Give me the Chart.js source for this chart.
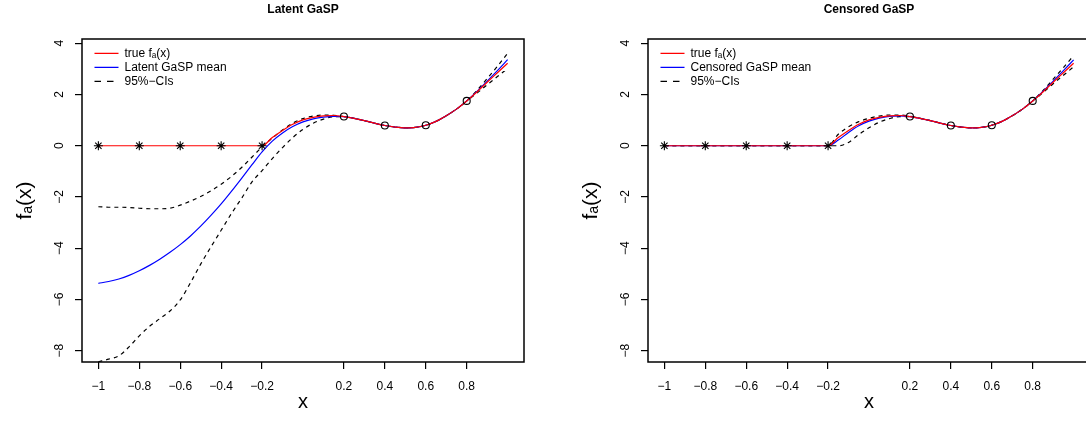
<!DOCTYPE html>
<html><head><meta charset="utf-8">
<script src="https://cdn.jsdelivr.net/npm/chart.js@4/dist/chart.umd.min.js"></script>
<style>
html,body{margin:0;padding:0;background:#fff;width:1086px;height:429px;overflow:hidden;}
#wrap{position:relative;width:1086px;height:429px;overflow:hidden;background:#fff;}
canvas{position:absolute;top:0;}
#c1{left:0;}
#c2{left:566px;}
</style></head><body>
<div id="wrap"><canvas id="c1" width="543" height="429"></canvas><canvas id="c2" width="543" height="429"></canvas></div>
<script>
// ---- data ----
const xGrid = [-1.00,-0.95,-0.90,-0.85,-0.80,-0.75,-0.70,-0.65,-0.60,-0.55,-0.50,-0.45,-0.40,-0.35,-0.30,-0.25,-0.20,-0.15,-0.10,-0.05,0.00,0.05,0.10,0.15,0.20,0.25,0.30,0.35,0.40,0.45,0.50,0.55,0.60,0.65,0.70,0.75,0.80,0.85,0.90,0.95,1.00];
const trueF = [0,0,0,0,0,0,0,0,0,0,0,0,0,0,0,0,0,0.32,0.60,0.84,1.01,1.11,1.17,1.18,1.14,1.07,0.98,0.88,0.79,0.73,0.70,0.72,0.80,0.95,1.17,1.43,1.75,2.10,2.48,2.85,3.22];
const latentMean = [-5.37,-5.30,-5.20,-5.06,-4.88,-4.67,-4.43,-4.16,-3.86,-3.52,-3.14,-2.72,-2.27,-1.78,-1.27,-0.75,-0.24,0.18,0.50,0.75,0.93,1.05,1.12,1.15,1.14,1.07,0.98,0.88,0.79,0.73,0.70,0.72,0.80,0.95,1.17,1.43,1.75,2.12,2.52,2.93,3.36];
const latentUpper = [-2.38,-2.40,-2.40,-2.41,-2.44,-2.46,-2.46,-2.44,-2.32,-2.16,-1.98,-1.76,-1.50,-1.20,-0.85,-0.45,-0.05,0.30,0.62,0.88,1.06,1.16,1.20,1.19,1.14,1.07,0.98,0.88,0.79,0.73,0.70,0.72,0.80,0.95,1.17,1.43,1.75,2.16,2.62,3.10,3.61];
const latentLower = [-8.43,-8.33,-8.20,-7.85,-7.42,-7.05,-6.75,-6.45,-6.02,-5.35,-4.62,-3.95,-3.30,-2.65,-2.05,-1.42,-0.97,-0.50,-0.07,0.32,0.64,0.88,1.04,1.13,1.14,1.07,0.98,0.88,0.79,0.73,0.70,0.72,0.80,0.95,1.17,1.43,1.75,2.05,2.38,2.70,3.02];
const censoredMean = [0,0,0,0,0,0,0,0,0,0,0,0,0,0,0,0,0,0.22,0.52,0.78,0.96,1.08,1.15,1.17,1.14,1.07,0.98,0.88,0.79,0.73,0.70,0.72,0.80,0.95,1.17,1.43,1.75,2.12,2.52,2.93,3.35];
const censoredUpper = [0,0,0,0,0,0,0,0,0,0,0,0,0,0,0,0,0,0.45,0.74,0.94,1.07,1.16,1.20,1.20,1.15,1.07,0.98,0.88,0.79,0.73,0.70,0.72,0.80,0.95,1.17,1.43,1.75,2.15,2.60,3.05,3.52];
const censoredLower = [0,0,0,0,0,0,0,0,0,0,0,0,0,0,0,0,0,0,0.13,0.44,0.70,0.92,1.06,1.14,1.14,1.07,0.98,0.88,0.79,0.73,0.70,0.72,0.80,0.95,1.17,1.43,1.75,2.07,2.42,2.75,3.08];
const censX = [-1, -0.8, -0.6, -0.4, -0.2];
const censY = [0, 0, 0, 0, 0];
const obsX = [0.2, 0.4, 0.6, 0.8];
const obsY = [1.14, 0.79, 0.80, 1.75];
const xTicks = [-1, -0.8, -0.6, -0.4, -0.2, 0.2, 0.4, 0.6, 0.8];
const yTicks = [-8, -6, -4, -2, 0, 2, 4];
const titles = ['Latent GaSP', 'Censored GaSP'];
const meanLabels = ['Latent GaSP mean', 'Censored GaSP mean'];
const trueLabel = 'true f\u2090(x)';
const ciLabel = '95%\u2212CIs';
const xTitle = 'x';
const yTitle = 'f\u2090(x)';

// ---- drawing ----
const FONT = "'Liberation Sans', Arial, Helvetica, sans-serif";
Chart.defaults.font.family = FONT;
Chart.defaults.color = '#000';

const minus = v => String(v).replace('-', '\u2212');
const toXY = (xs, ys) => xs.map((x, i) => ({x: x, y: ys[i]}));

const framePlugin = {
  id: 'frame',
  afterLayout(chart) {
    const a = chart.chartArea, lg = chart.legend;
    if (lg) {
      const h = lg.height, w = lg.width;
      lg.left = a.left + 10.5; lg.right = lg.left + w;
      lg.top = a.top + 6.3; lg.bottom = lg.top + h;
    }
  },
  afterDraw(chart) {
    const a = chart.chartArea, ctx = chart.ctx;
    ctx.save();
    ctx.strokeStyle = '#000';
    ctx.lineWidth = 1.5;
    ctx.strokeRect(Math.round(a.left), Math.round(a.top), Math.round(a.right - a.left), Math.round(a.bottom - a.top));
    ctx.restore();
  }
};

function lineDs(label, ys, color, dash, rank, hide) {
  return {
    label: label, data: toXY(xGrid, ys), borderColor: color, backgroundColor: color,
    borderWidth: 1.2, borderDash: dash, pointRadius: 0, pointHoverRadius: 0,
    cubicInterpolationMode: 'monotone', fill: false,
    legendRank: rank, hideInLegend: hide, legendDash: dash.length ? [6.5, 6] : []
  };
}

function makeChart(id, k, mean, upper, lower) {
  const grid = { display: true, drawOnChartArea: false, drawTicks: true, tickLength: 7, color: '#000', tickColor: '#000', tickWidth: 1.2, lineWidth: 1.2 };
  return new Chart(document.getElementById(id), {
    type: 'line',
    data: {
      datasets: [
        { label: 'censored', data: toXY(censX, censY), showLine: false, pointStyle: 'star', pointRadius: 4.5, borderColor: '#000', backgroundColor: 'rgba(0,0,0,0)', borderWidth: 1.1, hideInLegend: true },
        { label: 'observed', data: toXY(obsX, obsY), showLine: false, pointStyle: 'circle', pointRadius: 3.5, borderColor: '#000', backgroundColor: 'rgba(0,0,0,0)', borderWidth: 1.1, hideInLegend: true },
        lineDs(trueLabel, trueF, '#ff0000', [], 0, false),
        lineDs(meanLabels[k], mean, '#0000ff', [], 1, false),
        lineDs(ciLabel, upper, '#000000', [4, 4], 2, false),
        lineDs(ciLabel, lower, '#000000', [4, 4], 3, true)
      ]
    },
    options: {
      responsive: false, animation: false, devicePixelRatio: 1, events: [],
      layout: { padding: { left: 0, right: 19, top: 0, bottom: 0 } },
      plugins: {
        tooltip: { enabled: false },
        title: { display: true, text: titles[k], fullSize: false, color: '#000', font: { size: 12, weight: 'bold' }, padding: { top: 2, bottom: 22.6 } },
        legend: {
          display: true, position: 'chartArea', align: 'start',
          labels: {
            usePointStyle: true, pointStyle: 'line', pointStyleWidth: 24, boxHeight: 12,
            padding: 2, color: '#000', font: { size: 12 },
            generateLabels: chart => {
              const items = Chart.defaults.plugins.legend.labels.generateLabels(chart);
              items.forEach(it => {
                const ds = chart.data.datasets[it.datasetIndex];
                it.lineDash = ds.legendDash || [];
                it.strokeStyle = ds.borderColor;
                it.lineWidth = 1.2;
              });
              return items;
            },
            filter: (item, data) => !data.datasets[item.datasetIndex].hideInLegend,
            sort: (a, b, data) => data.datasets[a.datasetIndex].legendRank - data.datasets[b.datasetIndex].legendRank
          }
        }
      },
      scales: {
        x: {
          type: 'linear', min: -1.08, max: 1.08,
          afterBuildTicks: s => { s.ticks = xTicks.map(v => ({ value: v })); },
          afterFit: s => { s.height = 67; },
          grid: grid, border: { display: false },
          ticks: { autoSkip: false, maxRotation: 0, minRotation: 0, padding: 10, color: '#000', font: { size: 12 }, callback: v => minus(v) },
          title: { display: true, text: xTitle, color: '#000', font: { size: 20 }, padding: { top: 0, bottom: 15 } }
        },
        y: {
          type: 'linear', min: -8.441, max: 4.167,
          afterBuildTicks: s => { s.ticks = yTicks.map(v => ({ value: v })); },
          afterFit: s => { s.width = 82; },
          grid: grid, border: { display: false },
          ticks: { autoSkip: false, minRotation: 90, maxRotation: 90, crossAlign: 'center', padding: 8, color: '#000', font: { size: 12 }, callback: v => minus(v) },
          title: { display: true, text: yTitle, color: '#000', font: { size: 21 }, padding: { top: 13, bottom: 0 } }
        }
      }
    },
    plugins: [framePlugin]
  });
}

makeChart('c1', 0, latentMean, latentUpper, latentLower);
makeChart('c2', 1, censoredMean, censoredUpper, censoredLower);
</script>
</body></html>
